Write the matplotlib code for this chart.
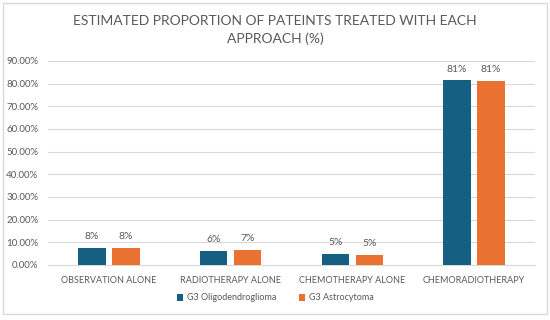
import matplotlib.pyplot as plt
import numpy as np
from matplotlib.patches import Rectangle
from matplotlib.ticker import FuncFormatter

categories = ['OBSERVATION ALONE', 'RADIOTHERAPY ALONE', 'CHEMOTHERAPY ALONE', 'CHEMORADIOTHERAPY']
oligo = [7.4, 6.0, 5.0, 81.4]
astro = [7.7, 6.6, 4.6, 81.2]
oligo_labels = ['8%', '6%', '5%', '81%']
astro_labels = ['8%', '7%', '5%', '81%']
series_names = ['G3 Oligodendroglioma', 'G3 Astrocytoma']

BLUE = '#156082'
ORANGE = '#E97132'
TEXT = '#595959'

plt.rcParams['font.family'] = ['Lato', 'DejaVu Sans']

fig = plt.figure(figsize=(5.5, 3.2), dpi=100)
fig.patches.append(Rectangle((0.006, 0.02), 0.988, 0.97, transform=fig.transFigure,
                             fill=False, edgecolor='#D9D9D9', linewidth=1.0))

ax = fig.add_axes([48 / 550, 1 - 265 / 320, (535 - 48) / 550, (265 - 61) / 320])

x = np.arange(len(categories))
w = 0.225
off = 0.14
b1 = ax.bar(x - off, oligo, w, color=BLUE, label=series_names[0], zorder=3)
b2 = ax.bar(x + off, astro, w, color=ORANGE, label=series_names[1], zorder=3)

for bars, labs in ((b1, oligo_labels), (b2, astro_labels)):
    for bar, lab in zip(bars, labs):
        ax.annotate(lab, (bar.get_x() + bar.get_width() / 2, bar.get_height()),
                    xytext=(0, 5), textcoords='offset points', ha='center', va='bottom',
                    fontsize=7.5, color=TEXT)

ax.set_xlim(-0.5, len(categories) - 0.5)
ax.set_ylim(0, 90)
ax.set_yticks(np.arange(0, 91, 10))
ax.yaxis.set_major_formatter(FuncFormatter(lambda v, p: f'{v:.2f}%'))
ax.grid(axis='y', color='#D9D9D9', linewidth=0.8, zorder=0)
for s in ['top', 'right', 'left']:
    ax.spines[s].set_visible(False)
ax.spines['bottom'].set_color('#D9D9D9')
ax.tick_params(axis='both', length=0, colors=TEXT)
ax.tick_params(axis='y', pad=7, labelsize=7)
ax.tick_params(axis='x', pad=8, labelsize=6.5)
ax.set_xticks(x)
ax.set_xticklabels(categories)

fig.text(0.5, 1 - 30 / 320, 'ESTIMATED PROPORTION OF PATEINTS TREATED WITH EACH\nAPPROACH (%)',
         ha='center', va='center', fontsize=10, color=TEXT, linespacing=1.5)

fig.legend(handles=[b1, b2], loc='center', bbox_to_anchor=(0.5, 1 - 298 / 320), ncol=2,
           frameon=False, fontsize=6.5, labelcolor=TEXT, handlelength=0.7, handleheight=0.7,
           handletextpad=0.4, columnspacing=2.5)

fig.savefig('out.png', dpi=100)
